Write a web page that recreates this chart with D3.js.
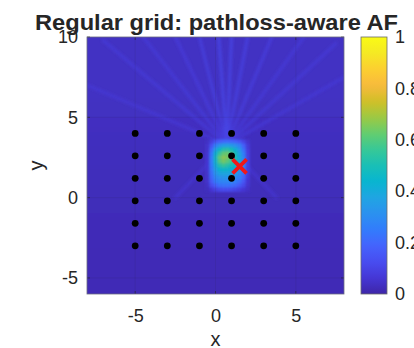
<!DOCTYPE html>
<meta charset="utf-8">
<style>
body { margin: 0; background: #fff; }
text { font-family: "Liberation Sans", Arial, sans-serif; fill: #262626; }
</style>
<body>
<svg></svg>
<script src="https://d3js.org/d3.v7.min.js"></script>
<script>

// ---- data ----
var xTicks = [-5, 0, 5];
var yTicks = [-5, 0, 5, 10];
var cTicks = [0, 0.2, 0.4, 0.6, 0.8, 1];

// regular 6x6 receiver grid
var gridX = [-5, -3, -1, 1, 3, 5];
var gridY = [4, 2.6, 1.2, -0.2, -1.6, -3];

// true source position (red cross)
var target = {x: 1.5, y: 1.95};

// background level of each 1-unit band, from y=10 down to y=-6
var bandTop = [10, 9, 8, 7, 6, 5, 4, 3, 2, 1, 0, -1, -2, -3, -4, -5];
var bandLevel = [0.038, 0.038, 0.038, 0.037, 0.035, 0.033, 0.031, 0.029, 0.027, 0.025, 0.024, 0.022, 0.021, 0.02, 0.02, 0.02];

// faint side-lobe streaks fanning out of the main lobe
var rayFrom = {x: 0.7, y: 3.3};
var rayEndX = [-8, -7, -4.5, -2.5, -1, 0.2, 1.0, 2.0, 3.5, 5.5, 7.5, 8, -2.5, 3.8];
var rayEndY = [7, 9.8, 10, 10, 10, 10, 10, 10, 10, 10, 9.6, 7.5, 0, 0];
var rayLevel = [0.065, 0.07, 0.07, 0.075, 0.085, 0.105, 0.1, 0.09, 0.08, 0.07, 0.07, 0.065, 0.055, 0.055];

// main lobe, 0.25 cells: columns x, rows y
var lobeX = [-0.5, -0.25, 0, 0.25, 0.5, 0.75, 1, 1.25, 1.5, 1.75, 2.0];
var lobeY = [3.5, 3.25, 3.0, 2.75, 2.5, 2.25, 2.0, 1.75, 1.5, 1.25, 1.0, 0.75, 0.5];
var lobeAF = [
  [.04, .08, .14, .18, .20, .21, .20, .18, .15, .10, .05],
  [.05, .14, .26, .32, .36, .37, .35, .32, .27, .18, .07],
  [.05, .20, .36, .46, .52, .53, .50, .43, .34, .22, .08],
  [.06, .24, .43, .56, .62, .63, .58, .49, .38, .26, .09],
  [.06, .26, .47, .62, .67, .65, .60, .51, .40, .28, .09],
  [.06, .26, .45, .60, .64, .61, .56, .49, .40, .28, .09],
  [.06, .25, .41, .52, .56, .53, .50, .45, .37, .26, .09],
  [.06, .24, .37, .44, .46, .45, .42, .40, .35, .24, .08],
  [.05, .22, .33, .38, .39, .39, .38, .36, .31, .22, .08],
  [.05, .20, .29, .32, .33, .33, .32, .30, .27, .19, .07],
  [.05, .17, .25, .28, .29, .29, .28, .26, .22, .15, .06],
  [.04, .12, .18, .22, .23, .23, .22, .20, .16, .11, .05],
  [.03, .06, .09, .11, .12, .12, .11, .10, .08, .06, .04]
];

// parula colormap stops
var parula = ["#3e26a8", "#4537d5", "#484df0", "#4563fd", "#327cfc", "#2b91ef", "#20a5e3",
  "#08b5d0", "#19bfb6", "#37c897", "#64cd6f", "#9dc943", "#d1bf27", "#f8ba3d", "#fccf30",
  "#f5e924", "#f9fb15"];

var W = 414, H = 348;
var plot = {left: 87, top: 37, width: 257, height: 257};
var cbar = {left: 361, width: 26};

var svg = d3.select("svg").attr("width", W).attr("height", H);

var x = d3.scaleLinear().domain([-8, 8]).range([plot.left, plot.left + plot.width]);
var y = d3.scaleLinear().domain([-6, 10]).range([plot.top + plot.height, plot.top]);
var cy = d3.scaleLinear().domain([0, 1]).range([plot.top + plot.height, plot.top]);

var color = d3.scaleLinear()
    .domain(parula.map(function(d, i) { return i / (parula.length - 1); }))
    .range(parula)
    .interpolate(d3.interpolateRgb)
    .clamp(true);

var defs = svg.append("defs");
defs.append("clipPath").attr("id", "plotClip")
  .append("rect")
    .attr("x", plot.left).attr("y", plot.top)
    .attr("width", plot.width).attr("height", plot.height);

function blur(id, sd) {
  defs.append("filter").attr("id", id)
      .attr("x", "-20%").attr("y", "-20%").attr("width", "140%").attr("height", "140%")
    .append("feGaussianBlur").attr("stdDeviation", sd);
}
blur("blurA", 1.1);
blur("blurB", 1.5);
blur("blurC", 4);

var heat = svg.append("g").attr("clip-path", "url(#plotClip)");

heat.append("rect")
    .attr("x", plot.left).attr("y", plot.top)
    .attr("width", plot.width).attr("height", plot.height)
    .attr("fill", color(d3.mean(bandLevel)));

// background bands
heat.append("g").attr("filter", "url(#blurC)")
  .selectAll("rect")
  .data(bandTop)
  .enter().append("rect")
    .attr("x", x(-11))
    .attr("width", x(11) - x(-11))
    .attr("y", function(d, i) { return i === 0 ? y(d) - 20 : y(d); })
    .attr("height", function(d, i) { return (y(0) - y(1)) + 0.5 + (i === 0 || i === bandTop.length - 1 ? 20 : 0); })
    .attr("fill", function(d, i) { return color(bandLevel[i]); });

// streaks
heat.append("g").attr("filter", "url(#blurB)")
  .selectAll("line")
  .data(rayEndX)
  .enter().append("line")
    .attr("x1", x(rayFrom.x)).attr("y1", y(rayFrom.y))
    .attr("x2", function(d) { return x(d); })
    .attr("y2", function(d, i) { return y(rayEndY[i]); })
    .attr("stroke", function(d, i) { return color(rayLevel[i]); })
    .attr("stroke-width", 2.5)
    .attr("stroke-linecap", "round");

// main lobe
var cell = x(0.25) - x(0);
var lobe = heat.append("g").attr("filter", "url(#blurA)");
lobeAF.forEach(function(row, r) {
  lobe.selectAll(null)
    .data(row)
    .enter().append("rect")
      .attr("x", function(d, c) { return x(lobeX[c]) - cell / 2; })
      .attr("y", y(lobeY[r]) - cell / 2)
      .attr("width", cell + 0.3)
      .attr("height", cell + 0.3)
      .attr("fill", function(d) { return color(d); });
});

// grid lines
var gridG = svg.append("g").attr("stroke", "#262626").attr("stroke-opacity", 0.15).attr("stroke-width", 0.6);
gridG.selectAll(".gx").data(xTicks).enter().append("line")
    .attr("x1", function(d) { return x(d); }).attr("x2", function(d) { return x(d); })
    .attr("y1", plot.top).attr("y2", plot.top + plot.height);
gridG.selectAll(".gy").data(yTicks.filter(function(d) { return d < 10; })).enter().append("line")
    .attr("y1", function(d) { return y(d); }).attr("y2", function(d) { return y(d); })
    .attr("x1", plot.left).attr("x2", plot.left + plot.width);

// axes
var fmt = function(d) { return String(d); };
var xAxis = d3.axisBottom(x).tickValues(xTicks).tickFormat(fmt).tickSize(0).tickPadding(15);
var yAxis = d3.axisLeft(y).tickValues(yTicks).tickFormat(fmt).tickSize(0).tickPadding(9);

var gx = svg.append("g")
    .attr("transform", "translate(0," + (plot.top + plot.height) + ")")
    .call(xAxis);
var gy = svg.append("g")
    .attr("transform", "translate(" + plot.left + ",0)")
    .call(yAxis);
[gx, gy].forEach(function(g) {
  g.select(".domain").remove();
  g.selectAll("text").style("font-size", "18px").attr("fill", "#262626")
    .style("font-family", "'Liberation Sans', Arial, sans-serif");
});

// inner tick marks on all four sides
var tk = svg.append("g").attr("stroke", "#262626").attr("stroke-width", 0.6);
xTicks.forEach(function(d) {
  tk.append("line").attr("x1", x(d)).attr("x2", x(d)).attr("y1", plot.top + plot.height).attr("y2", plot.top + plot.height - 3);
  tk.append("line").attr("x1", x(d)).attr("x2", x(d)).attr("y1", plot.top).attr("y2", plot.top + 3);
});
yTicks.forEach(function(d) {
  tk.append("line").attr("y1", y(d)).attr("y2", y(d)).attr("x1", plot.left).attr("x2", plot.left + 3);
  tk.append("line").attr("y1", y(d)).attr("y2", y(d)).attr("x1", plot.left + plot.width).attr("x2", plot.left + plot.width - 3);
});

svg.append("rect")
    .attr("x", plot.left).attr("y", plot.top)
    .attr("width", plot.width).attr("height", plot.height)
    .attr("fill", "none").attr("stroke", "#6b6b80").attr("stroke-width", 0.8);

// receivers
var pts = [];
gridY.forEach(function(gyv) { gridX.forEach(function(gxv) { pts.push([gxv, gyv]); }); });
svg.append("g").selectAll("circle")
  .data(pts)
  .enter().append("circle")
    .attr("cx", function(d) { return x(d[0]); })
    .attr("cy", function(d) { return y(d[1]); })
    .attr("r", 3.4)
    .attr("fill", "#000");

// source
var xs = 7;
svg.append("path")
    .attr("d", "M" + (x(target.x) - xs) + "," + (y(target.y) - xs) + "L" + (x(target.x) + xs) + "," + (y(target.y) + xs) +
               "M" + (x(target.x) - xs) + "," + (y(target.y) + xs) + "L" + (x(target.x) + xs) + "," + (y(target.y) - xs))
    .attr("stroke", "#f01818")
    .attr("stroke-width", 3.8)
    .attr("fill", "none");

// axis labels
svg.append("text")
    .attr("x", x(0)).attr("y", 346)
    .attr("text-anchor", "middle")
    .style("font-size", "20px")
    .text("x");
svg.append("text")
    .attr("transform", "translate(43," + y(2) + ") rotate(-90)")
    .attr("text-anchor", "middle")
    .style("font-size", "20px")
    .text("y");

// colorbar
var grad = defs.append("linearGradient").attr("id", "cgrad")
    .attr("x1", 0).attr("y1", 1).attr("x2", 0).attr("y2", 0);
grad.selectAll("stop")
  .data(d3.range(0, 1.0001, 0.02))
  .enter().append("stop")
    .attr("offset", function(d) { return d; })
    .attr("stop-color", function(d) { return color(d); });

svg.append("rect")
    .attr("x", cbar.left).attr("y", cy(1))
    .attr("width", cbar.width).attr("height", cy(0) - cy(1))
    .attr("fill", "url(#cgrad)")
    .attr("stroke", "#6b6b6b").attr("stroke-width", 0.8);

var cAxis = d3.axisRight(cy).tickValues(cTicks).tickSize(0).tickPadding(8)
    .tickFormat(function(d) { return d === 0 || d === 1 ? String(d) : d3.format(".1f")(d); });
var gc = svg.append("g")
    .attr("transform", "translate(" + (cbar.left + cbar.width) + ",0)")
    .call(cAxis);
gc.select(".domain").remove();
gc.selectAll("text").style("font-size", "18px").attr("fill", "#262626")
  .style("font-family", "'Liberation Sans', Arial, sans-serif");
cTicks.forEach(function(d) {
  if (d === 0 || d === 1) return;
  tk.append("line").attr("y1", cy(d)).attr("y2", cy(d))
    .attr("x1", cbar.left + cbar.width).attr("x2", cbar.left + cbar.width - 3);
});

// title
svg.append("text")
    .attr("x", plot.left + plot.width / 2 + 1).attr("y", 30)
    .attr("text-anchor", "middle")
    .attr("textLength", 363)
    .attr("lengthAdjust", "spacingAndGlyphs")
    .style("font-size", "22px")
    .style("font-weight", "bold")
    .attr("fill", "#000")
    .text("Regular grid: pathloss-aware AF");

</script>
